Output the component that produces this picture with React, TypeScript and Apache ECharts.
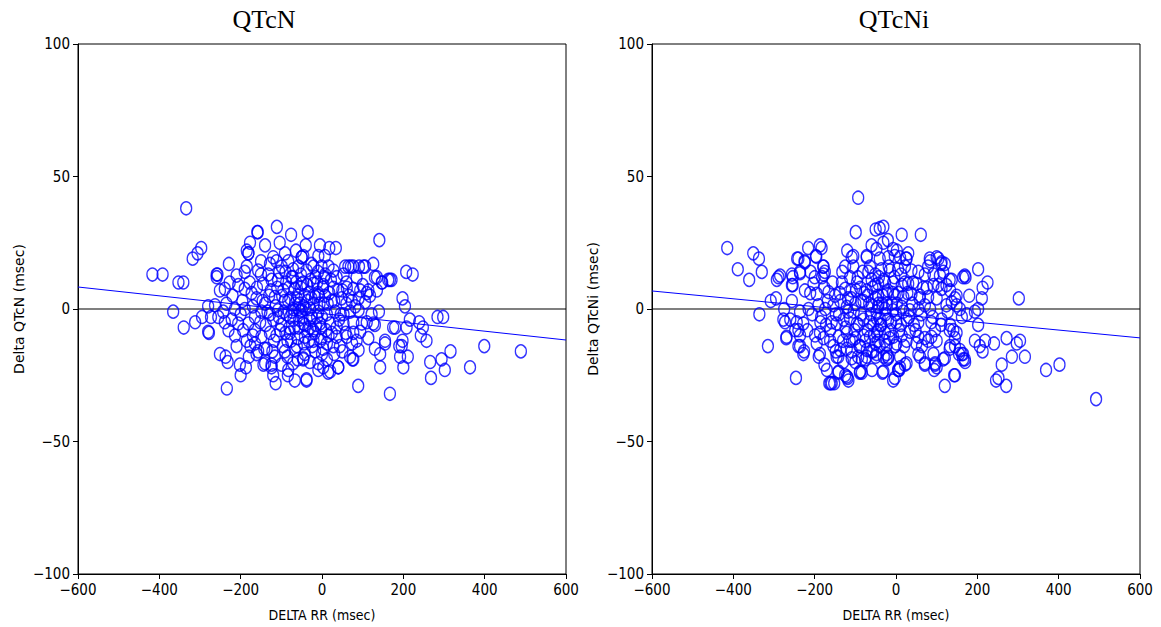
import React, { useEffect, useRef } from "react";
import * as echarts from "echarts";

const titles = ["QTcN", "QTcNi"];
const yNames = ["Delta QTcN (msec)", "Delta QTcNi (msec)"];
const xName = "DELTA RR (msec)";
const xTicks = [-600, -400, -200, 0, 200, 400, 600];
const yTicks = [-100, -50, 0, 50, 100];

// regression lines: [x, y] endpoints
const fitQTcN = [[-600, 8.3], [600, -11.7]];
const fitQTcNi = [[-600, 6.8], [600, -10.9]];

const pointsQTcN = [
  [-334,38],[-297,23],[-306,21],[-318,19],[-417,13],[-392,13],[-353,10],[-341,10],[-366,-1],[-312,-5],[-340,-7],[-295,-3],[-278,-9],[-273,-3],[-280,1],[-159,29],[-177,25],[-181,21],[-229,17],[-259,13],[-259,12],[-251,-17],[-237,-18],[-232,-20],[-202,-21],[-187,-22],[-200,-25],[-234,-30],[-144,-21],[-161,-17],
  [-111,31],[-76,28],[-35,29],[141,26],[34,23],[167,11],[140,-1],[130,-6],[155,-13],[143,-22],[89,-29],[167,-32],[-38,-27],[-114,-28],[-84,-25],[75,-19],[40,-22],[-9,-23],[15,-24],[-124,-22],[91,16],[106,16],[126,17],[71,16],[57,16],[130,12],[148,10],[114,7],
  [207,14],[223,13],[171,11],[198,4],[204,1],[216,-4],[239,-5],[248,-7],[284,-3],[298,-3],[175,-7],[180,-7],[208,-7],[243,-10],[257,-12],[198,-12],[196,-14],[190,-14],[316,-16],[399,-14],[489,-16],[192,-18],[211,-18],[200,-22],[266,-20],[294,-19],[302,-23],[364,-22],[268,-26],
  [-158,29],[-181,21],[-185,22],[-120,19.5],[-112,18],[-128,17],[-91,21],[-83,18],[-99,16],[-71,15],[-50,19.5],[-58,16],[-257,13],[-157,14.5],[-185,16],[-210,12.6],[-227,10],[-239,7.6],[-251,7],[-206,9],[-190,7.6],[-173,6],[-145,9.5],[-124,11],[-108,11],[-75,12],[-95,7],[-67,7.6],[-50,9.5],[-161,4],[-140,2],[-116,4.5],[-83,3],[-58,5],[-263,1.4],[-235,2],[-214,0],[-190,0],[-255,-3],[-239,-5],[-222,-4],[-206,-5.5],[-181,-5.5],[-165,-3],[-149,-1],[-128,-2],[-108,-0.5],[-87,-2],[-71,0],[-54,-1],[-280,-8.6],[-194,-8],[-214,-10],[-185,-12],[-165,-8],[-149,-10.5],[-165,-13],[-128,-9],[-103,-8],[-79,-9],[-58,-7],[-157,-16],[-136,-15],[-116,-18],[-91,-16],[-67,-15.5],[-46,-18.6],[-140,-20.5],[-124,-21],[-83,-23],[-67,-27],[-71,-20.5],
  [-46,20],[-50,19.5],[-9,20],[7,20],[-21,16],[-38,14.5],[-1,16],[16,16],[28,14.5],[53,13],[65,16],[77,16],[102,16],[85,12],[135,12],[163,11],[147,10],[61,8],[77,7.6],[94,7],[110,6],[118,5],[135,7],[-46,10],[-21,9.5],[3,9],[28,8],[40,7],[-42,5],[-17,4.5],[7,5],[24,3],[48,4],[73,3],[90,4],[106,2.6],[122,-2],[-50,-0.5],[-29,0],[-9,-1],[12,-2],[32,-1],[53,-2],[69,-1],[90,-0.5],[-46,-5.5],[-29,-7],[-5,-5.5],[20,-5.5],[36,-7],[53,-5.5],[77,-5],[98,-5.5],[110,-5],[126,-5.5],[-42,-10.5],[-21,-12],[-1,-11],[16,-10],[36,-10.5],[61,-10.5],[77,-9],[94,-8.6],[114,-11],[130,-15],[143,-17],[155,-12],[-42,-17],[-17,-16],[3,-15],[28,-14],[44,-14],[69,-18],[77,-19],[90,-15.5],[-46,-19],[-9,-20.5],[12,-19],[3,-22],[40,-22],[20,-23.6],[-38,-26.5],
  [-130,5],[-120,-4],[-110,8],[-100,-6],[-92,3],[-85,-12],[-78,4],[-70,-4],[-64,10],[-60,-11],[-55,2],[-48,-3],[-40,0],[-35,-8],[-32,6],[-25,-3],[-20,2],[-15,-6],[-12,10],[-6,2],[0,-3],[5,12],[-138,-6],[-132,13],[-118,-12],[-105,14],[-96,-14],[-88,10],[-80,-7],[-74,-1],[-66,2],[-62,-14],[-52,13],[-44,-13],[-36,3],[-28,11],[-24,-14],[-18,-9],[-10,6],[-4,-12],[2,8],[10,-8],[14,2],[-146,3],[-152,-5],[-170,1],[-178,10],[-196,3],[-200,-2],[-220,5],[-243,-1],[-230,-8],[-176,-14],[-112,-10],[-94,-1],[-76,-12],[-58,0],[-30,-4],[22,11],[46,-2],[60,2],[85,-12],[100,9],[-26,17],[-64,22],[-104,25],[-140,24],[-5,24],[18,23],[-85,-18],[-30,-20],[-100,-21],[50,-16],[60,10],
  [-190,14],[-170,-10],[-160,8],[-150,13],[-142,-15],[-134,-1],[-126,7],[-122,-16],[-114,1],[-106,-3],[-98,5],[-90,-9],[-82,8],[-78,-3],[-72,12],[-68,-7],[-62,4],[-56,-4],[-52,8],[-46,1],[-42,-6],[-36,9],[-32,-12],[-26,4],[-22,-8],[-16,12],[-12,-3],[-8,5],[-2,-7],[4,2],[8,13],[12,-13],[18,6],[24,-9],[30,3],[36,12],[42,-4],[50,7],[58,-9],[66,5],[74,-13],[82,1],[-210,-14],[-180,-18],[-120,-25],[-60,-19],[0,-17],[30,-17],[-150,18],[-90,14],[-40,24],[-10,14]
];

const pointsQTcNi = [
  [-415,23],[-351,21],[-337,19],[-389,15],[-330,14],[-361,11],[-293,11],[-289,12],[-336,-2],[-315,-14],[-246,-26],[-308,3],[-295,4],[-275,0],[-256,3],[-256,9],[-254,12],[-236,14],[-243,19],[-225,18],[-216,23],[-197,20],[-187,24],[-183,23],[-179,16],[-175,14],[-273,-5],[-270,-11],[-240,-8],[-236,-10],[-236,-14],[-226,-16],[-228,-17],[-187,-17],[-176,-21],[-170,-23],[-161,-28],[-152,-28],[-142,-18],
  [-93,42],[-99,29],[-50,30],[-31,31],[14,28],[61,28],[-31,25],[-105,20],[-72,20],[2,22],[30,21],[25,19],[84,18],[104,19],[111,17],[116,14],[137,11],[165,12],[133,7],[145,4],[157,0],[162,-3],[127,-1],[111,-6],[133,-6],[141,-8],[145,-11],[133,-14],[155,-17],[165,-19],[116,-19],[96,-21],[94,-23],[71,-21],[59,-18],[120,-29],[143,-25],[22,-21],[8,-23],[6,-23],[-7,-27],[-33,-24],[-23,-19],[-19,-18],[-50,-18],[-84,-24],[-89,-24],[-119,-26],[-125,-25],[-142,-24],[-76,-19],[-93,-18],
  [202,15],[171,12],[225,10],[213,8],[180,5],[211,4],[302,4],[174,-2],[194,-1],[202,0],[202,-6],[194,-12],[206,-14],[213,-16],[219,-12],[241,-13],[272,-11],[297,-13],[305,-12],[285,-18],[317,-18],[260,-21],[246,-27],[252,-26],[271,-29],[369,-23],[402,-21],[492,-34],[162,-17],[170,-20],
  [-240,19],[-224,17.6],[-196,19.7],[-178,16],[-178,13],[-182,12],[-256,13],[-254,9],[-236,13.5],[-285,12.6],[-224,7],[-211,6],[-203,9.5],[-195,5.7],[-166,6.4],[-150,5],[-109,19.5],[-125,16],[-105,16],[-113,12],[-133,10],[-96,10],[-72,19.5],[-64,16],[-51,13],[-125,7.6],[-109,7],[-88,8],[-72,7],[-51,9],[-236,-1],[-215,0],[-191,1.4],[-174,0],[-154,1.4],[-137,3],[-121,0.8],[-100,2],[-80,3],[-59,1.4],[-43,2],[-277,-4],[-260,-4],[-244,-5],[-228,-5.5],[-269,-10.5],[-248,-8],[-240,-14],[-199,-10],[-187,-9],[-195,-13],[-178,-11],[-162,-8],[-146,-5.5],[-129,-4],[-113,-3.6],[-96,-5.5],[-80,-4],[-64,-5],[-47,-3.6],[-141,-10.5],[-121,-9],[-100,-11],[-80,-10],[-64,-10.5],[-47,-9],[-154,-14],[-137,-15.5],[-121,-15],[-109,-16],[-88,-14],[-72,-15.5],[-51,-13],[-146,-18],[-109,-18.6],[-84,-19],[-72,-18],[-59,-23],[-141,-23.6],[-121,-25.5],[-117,-27],[-88,-23.6],[-158,-28],[-164,-28],
  [-40,30.5],[-7,22.6],[-3,20],[26,19],[-40,19],[-19,19.5],[10,19.5],[-48,22.6],[83,19],[100,19.5],[112,17.6],[120,17],[79,16],[169,12.6],[132,11],[-36,15],[-15,14.5],[5,15],[22,16],[38,14.5],[55,14],[71,13],[92,13],[108,12.6],[-44,9.5],[-27,10],[-7,10],[14,9],[30,9.5],[50,9.5],[67,8],[92,9],[112,7.6],[124,9],[149,5],[137,2.6],[124,1.4],[149,1.4],[-44,5],[-23,5.7],[-3,5],[18,4.5],[38,5.7],[59,5],[79,4.5],[100,4],[-44,0.8],[-27,0],[-7,-0.5],[14,0.8],[34,-0.5],[55,0],[71,1.4],[-40,-3.6],[-19,-4],[1,-5],[26,-4],[55,-5],[87,-5],[112,-4],[132,-8],[149,-9],[-44,-8],[-27,-9],[-7,-10.5],[14,-10],[34,-8.6],[55,-10.5],[71,-11],[87,-10.5],[100,-12],[-44,-12],[-23,-13.6],[1,-13],[26,-12],[50,-13],[79,-12],[-48,-17],[-19,-18.6],[-23,-17],[55,-17],[71,-20.5],[96,-20.5],[100,-22],[120,-18.6],[5,-23],[10,-22],[26,-20.5],[-31,-23.6],[-3,-26],[92,-17],[132,-15],[145,-14],[157,-15.5],[165,-17],[169,-19],[145,-25],
  [-118,-1],[-110,4],[-102,-8],[-94,12],[-86,-2],[-78,6],[-70,-8],[-66,2],[-60,11],[-56,-6],[-50,4],[-38,-6],[-34,2],[-30,11],[-26,-2],[-20,7],[-14,-8],[-10,2],[-4,12],[0,-2],[6,6],[12,-6],[18,-1],[22,10],[-130,-12],[-138,6],[-148,-2],[-158,-5],[-168,3],[-172,-6],[-184,-3],[-206,-2],[-218,-8],[-114,-12],[-90,-14],[-68,14],[-56,-16],[-40,-14],[-16,-11],[40,2],[44,-6],[62,-2],[84,0],[96,-8],[104,9],
  [-200,12],[-186,-5],[-176,8],[-162,-12],[-156,10],[-148,-16],[-140,-2],[-132,14],[-124,-7],[-118,4],[-108,-12],[-104,-1],[-98,7],[-92,-6],[-86,3],[-82,14],[-76,-12],[-70,5],[-62,-2],[-58,8],[-54,-10],[-48,-1],[-42,12],[-36,-6],[-32,5],[-28,-12],[-22,2],[-18,16],[-12,-5],[-8,6],[-2,-14],[2,2],[8,-8],[12,13],[20,-14],[28,6],[32,-3],[42,10],[48,-8],[58,4],[64,-14],[76,8],[90,-3],[-210,14],[-190,-18],[-130,-20],[-100,-20],[-60,-16],[-30,-18],[10,-18],[-120,22],[-60,24],[-20,26]
];

const BLUE = "#0000ff";
const tickFont = '"DejaVu Sans Condensed", "Liberation Sans", sans-serif';
const minus = (v: number) => String(v).replace("-", "\u2212");

export default function App() {
  const ref = useRef<HTMLDivElement>(null);
  useEffect(() => {
    document.body.style.margin = "0";
    const chart = echarts.init(ref.current!, null, { renderer: "svg" });
    const lefts = [78, 652];
    const grids = lefts.map((l) => ({
      left: l, top: 44, width: 488, height: 532,
      show: true, borderColor: "#000", borderWidth: 1, backgroundColor: "transparent",
    }));
    const xAxes = lefts.map((_, i) => ({
      type: "value", gridIndex: i, min: xTicks[0], max: xTicks[xTicks.length - 1], interval: 200,
      name: xName, nameLocation: "middle", nameGap: 34,
      nameTextStyle: { fontFamily: tickFont, fontSize: 14, color: "#000" },
      axisLine: { show: true, onZero: false, lineStyle: { color: "#000", width: 1 } },
      axisTick: { show: true, inside: false, length: 5, lineStyle: { color: "#000" } },
      axisLabel: { fontFamily: tickFont, fontSize: 15, color: "#000", margin: 8, formatter: minus },
      splitLine: { show: false },
    }));
    const yAxes = lefts.map((_, i) => ({
      type: "value", gridIndex: i, min: yTicks[0], max: yTicks[yTicks.length - 1], interval: 50,
      name: yNames[i], nameLocation: "middle", nameGap: 52, nameRotate: 90,
      nameTextStyle: { fontFamily: "DejaVu Sans", fontSize: 14, color: "#000" },
      axisLine: { show: true, onZero: false, lineStyle: { color: "#000", width: 1 } },
      axisTick: { show: true, inside: false, length: 5, lineStyle: { color: "#000" } },
      axisLabel: { fontFamily: tickFont, fontSize: 15, color: "#000", margin: 8, formatter: minus },
      splitLine: { show: false },
    }));
    const pts = [pointsQTcN, pointsQTcNi];
    const fits = [fitQTcN, fitQTcNi];
    const series: any[] = [];
    lefts.forEach((_, i) => {
      series.push({
        type: "line", xAxisIndex: i, yAxisIndex: i, data: [[xTicks[0], 0], [xTicks[xTicks.length - 1], 0]],
        showSymbol: false, symbol: "none", lineStyle: { color: "#000", width: 1.2 }, silent: true, z: 1,
      });
      series.push({
        type: "scatter", xAxisIndex: i, yAxisIndex: i, data: pts[i], symbol: "circle", symbolSize: [11, 13],
        itemStyle: { color: "transparent", borderColor: BLUE, borderWidth: 1.4 }, z: 2,
      });
      series.push({
        type: "line", xAxisIndex: i, yAxisIndex: i, data: fits[i], symbol: "none",
        lineStyle: { color: BLUE, width: 1 }, silent: true, z: 3,
      });
    });
    chart.setOption({
      animation: false,
      backgroundColor: "#fff",
      grid: grids,
      xAxis: xAxes,
      yAxis: yAxes,
      series,
      graphic: [
        { type: "text", x: 264, y: 6, style: { text: titles[0], fontFamily: "Liberation Serif", fontSize: 26, fill: "#000", textAlign: "center" } },
        { type: "text", x: 894, y: 6, style: { text: titles[1], fontFamily: "Liberation Serif", fontSize: 26, fill: "#000", textAlign: "center" } },
      ],
    });
    return () => chart.dispose();
  }, []);
  return <div ref={ref} style={{ width: 1161, height: 627 }} />;
}
